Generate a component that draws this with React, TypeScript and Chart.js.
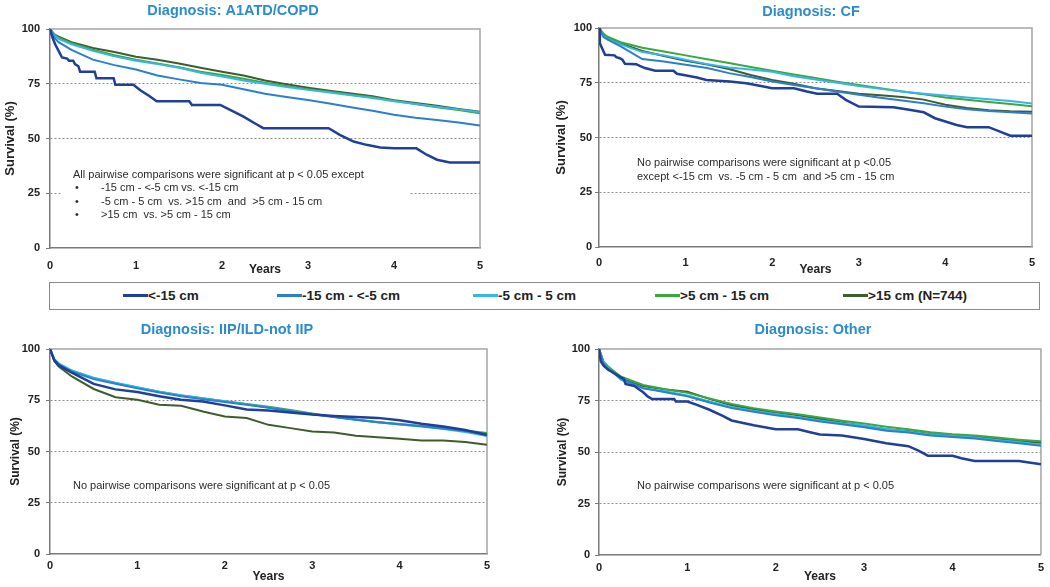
import React, { useEffect, useRef } from "react";
import { Chart, registerables } from "chart.js";

Chart.register(...registerables);

const FONT = '"Liberation Sans", Arial, Helvetica, sans-serif';

const SERIES_LABELS = ["<-15 cm", "-15 cm - <-5 cm", "-5 cm - 5 cm", ">5 cm - 15 cm", ">15 cm (N=744)"];
const SERIES_COLORS = ["#1f3f98", "#2a7fcf", "#36b5ea", "#3aa83a", "#3f5d2c"];
const X_TICK_STEP = 1;
const Y_TICK_STEP = 25;

// common time grid (years) for the smoother curves
const GRID_YEARS = [0, 0.05, 0.1, 0.25, 0.5, 0.75, 1, 1.25, 1.5, 1.75, 2, 2.25, 2.5, 2.75, 3, 3.25, 3.5, 3.75, 4, 4.25, 4.5, 4.75, 5];

// ---- Diagnosis: A1ATD/COPD ----
const COPD_NAVY_YEARS = [0, 0.03, 0.06, 0.1, 0.14, 0.2, 0.22, 0.27, 0.29, 0.33, 0.35, 0.52, 0.54, 0.74, 0.76, 0.97, 1.05, 1.15, 1.24, 1.62, 1.65, 1.98, 2.1, 2.25, 2.4, 2.48, 3.24, 3.37, 3.53, 3.68, 3.84, 4.0, 4.26, 4.38, 4.5, 4.65, 5];
const COPD_NAVY = [100, 96, 93, 90, 87, 86.5, 85.5, 85.5, 84, 83, 80.5, 80.5, 77.5, 77.5, 74.5, 74.5, 72, 69.5, 67, 67, 65.3, 65.3, 63, 60, 56.5, 54.7, 54.7, 51.7, 48.6, 47.1, 45.9, 45.5, 45.5, 42.6, 40.3, 39, 39];
const COPD_MID = [100, 96, 94, 90.5, 86, 83.5, 81.5, 78.8, 77, 75.3, 74.5, 72.5, 70.4, 69, 67.6, 66, 64.3, 62.7, 60.8, 59.5, 58.5, 57.3, 55.9];
const COPD_CYAN = [100, 97, 95.5, 93, 90, 87.5, 85.5, 84, 82.3, 80, 78.3, 76.5, 75, 73.5, 72.2, 71, 69.8, 68.5, 67, 65.8, 64.5, 63.3, 62];
const COPD_GREEN = [100, 97.5, 96, 93.5, 90.5, 88, 86, 84.3, 82.5, 80.5, 79, 77.3, 75.5, 74, 72.5, 71.3, 70, 68.8, 67.2, 65.8, 64.3, 63, 61.5];
const COPD_OLIVE = [100, 97.5, 96.5, 94, 91.3, 89.5, 87.3, 86, 84.2, 82.3, 80.5, 78.8, 76.5, 74.8, 73.2, 71.8, 70.5, 69.3, 67.5, 66.2, 65, 63.5, 62.2];

// ---- Diagnosis: CF ----
const CF_NAVY_YEARS = [0, 0.01, 0.07, 0.18, 0.2, 0.24, 0.27, 0.3, 0.43, 0.47, 0.53, 0.65, 0.86, 0.9, 1.01, 1.13, 1.24, 1.51, 1.7, 1.9, 2.0, 2.25, 2.4, 2.52, 2.75, 2.85, 3.0, 3.4, 3.6, 3.75, 3.88, 4.0, 4.13, 4.25, 4.5, 4.63, 4.75, 5];
const CF_NAVY = [100, 93, 87.8, 87.5, 86.7, 86.2, 85.5, 83.7, 83.5, 82.7, 81.7, 80.5, 80.5, 79.1, 78.3, 77.4, 76.3, 75.6, 74.8, 73.3, 72.5, 72.5, 71, 70, 70, 67.2, 64.1, 63.8, 62.6, 61.5, 58.8, 57.3, 55.7, 54.7, 54.7, 52.7, 50.8, 50.8];
const CF_MID = [100, 96, 94.7, 91.6, 85.8, 84.7, 83.2, 81.7, 79.4, 77.6, 75.6, 74, 72.5, 71, 69.5, 68.2, 66.9, 65.6, 64.1, 62.9, 62.1, 61.5, 61];
const CF_CYAN = [100, 96.5, 95, 92.5, 89, 87.5, 85.5, 83.5, 82, 81, 80, 78, 76.5, 75, 73.5, 72.2, 71, 70, 69.2, 68.3, 67.5, 66.7, 65.5];
const CF_GREEN = [100, 97.5, 96, 93.5, 91, 89.3, 87.5, 85.7, 84, 82.2, 80.5, 78.8, 77.2, 75.5, 74, 72.5, 71, 69.8, 68.3, 67.2, 66.2, 65.3, 64.3];
const CF_OLIVE = [100, 97, 95.5, 93, 89.5, 87.2, 85, 83.3, 81.3, 78.5, 76.3, 74.5, 72.5, 71.2, 70, 69.3, 68.5, 67.3, 65, 63.5, 62.5, 62, 61.8];

// ---- Diagnosis: IIP/ILD-not IIP ----
const ILD_NAVY = [100, 94.5, 92, 88.5, 83, 80.3, 79, 77, 75.2, 74.4, 72.5, 70.5, 70, 69, 68, 67.3, 66.8, 66.4, 65.2, 63.5, 62.2, 60.5, 58];
const ILD_MID = [100, 94.5, 92.5, 89, 85.3, 83, 80.8, 78.8, 77, 75.5, 74.2, 72.8, 71.3, 69.8, 68.2, 66.8, 65.5, 64.3, 63.3, 62.3, 61.2, 60, 58.5];
const ILD_CYAN = [100, 95, 93, 89.5, 86, 83.5, 81.3, 79.2, 77.3, 75.8, 74.5, 73, 71.5, 69.8, 68.3, 66.8, 65.5, 64.3, 63.2, 62.2, 61, 59.5, 57.5];
const ILD_GREEN = [100, 94.5, 92.8, 89.3, 85.8, 83.3, 81.2, 79.2, 77.4, 76, 74.5, 73.2, 71.8, 70.2, 68.6, 67, 65.6, 64.4, 63.4, 62.5, 61.5, 60.3, 59];
const ILD_OLIVE = [100, 94, 91.5, 86.6, 80.5, 76.5, 75.2, 72.8, 72.3, 69.5, 67.1, 66.3, 63, 61.4, 59.8, 59.3, 57.7, 57, 56.2, 55.4, 55.4, 54.6, 53.3];

// ---- Diagnosis: Other ----
const OTHER_NAVY_YEARS = [0, 0.02, 0.05, 0.1, 0.2, 0.28, 0.3, 0.4, 0.45, 0.5, 0.55, 0.6, 0.85, 0.87, 1.0, 1.1, 1.25, 1.4, 1.5, 1.75, 2.0, 2.25, 2.4, 2.5, 2.75, 3.0, 3.25, 3.5, 3.62, 3.72, 4.0, 4.1, 4.25, 4.75, 5];
const OTHER_NAVY = [100, 94, 92, 90, 87.5, 85.5, 83, 82, 80.5, 79, 77, 75.7, 75.7, 74.5, 74.5, 73, 70.5, 67.5, 65.3, 63, 61, 61, 59.5, 58.5, 58, 56.3, 54.2, 52.8, 50.5, 48.2, 48.2, 47, 45.6, 45.6, 44];
const OTHER_MID = [100, 93, 90.5, 85.5, 81, 79, 77, 74, 71.3, 69.5, 67.8, 66.5, 64.8, 63.5, 62, 60.3, 59.5, 58, 57.3, 56.5, 55.3, 54.2, 53];
const OTHER_CYAN = [100, 93.5, 91, 85, 80.8, 79.5, 77.5, 74.5, 71.8, 70, 68.5, 67, 65.3, 64, 63, 61.2, 60, 58.5, 57.8, 57, 55.8, 54.8, 53.5];
const OTHER_GREEN = [100, 94, 91.5, 86.5, 82.5, 80.5, 78.7, 76, 73.3, 71.3, 69.7, 68.3, 66.7, 65.2, 63.8, 62.3, 61, 59.6, 58.6, 58, 57, 56, 55.2];
const OTHER_OLIVE = [100, 93.5, 91.5, 86, 82, 80.3, 79.3, 75.8, 72.7, 70.8, 69.2, 67.8, 66, 64.3, 62.8, 61, 60.2, 58.7, 58.2, 57.5, 56.3, 55.3, 54.5];

const PANEL_TITLES = ["Diagnosis: A1ATD/COPD", "Diagnosis: CF", "Diagnosis: IIP/ILD-not IIP", "Diagnosis: Other"];

const COPD_NOTE = [
  "All pairwise comparisons were significant at p < 0.05 except",
  "-15 cm - <-5 cm vs. <-15 cm",
  "-5 cm - 5 cm  vs. >15 cm  and  >5 cm - 15 cm",
  ">15 cm  vs. >5 cm - 15 cm",
];
const CF_NOTE = [
  "No pairwise comparisons were significant at p <0.05",
  "except <-15 cm  vs. -5 cm - 5 cm  and >5 cm - 15 cm",
];
const ILD_NOTE = ["No pairwise comparisons were significant at p < 0.05"];
const OTHER_NOTE = ["No pairwise comparisons were significant at p < 0.05"];

type XY = { x: number; y: number };
const xy = (xs: number[], ys: number[]): XY[] => xs.map((x, i) => ({ x, y: ys[i] }));

const PANEL_SERIES: [number[], number[]][][] = [
  [[COPD_NAVY_YEARS, COPD_NAVY], [GRID_YEARS, COPD_MID], [GRID_YEARS, COPD_CYAN], [GRID_YEARS, COPD_GREEN], [GRID_YEARS, COPD_OLIVE]],
  [[CF_NAVY_YEARS, CF_NAVY], [GRID_YEARS, CF_MID], [GRID_YEARS, CF_CYAN], [GRID_YEARS, CF_GREEN], [GRID_YEARS, CF_OLIVE]],
  [[GRID_YEARS, ILD_NAVY], [GRID_YEARS, ILD_MID], [GRID_YEARS, ILD_CYAN], [GRID_YEARS, ILD_GREEN], [GRID_YEARS, ILD_OLIVE]],
  [[OTHER_NAVY_YEARS, OTHER_NAVY], [GRID_YEARS, OTHER_MID], [GRID_YEARS, OTHER_CYAN], [GRID_YEARS, OTHER_GREEN], [GRID_YEARS, OTHER_OLIVE]],
];

type Note = { x: number; y: number; text: string };

// layout of each panel (canvas placement and fixed axis sizes)
const LAYOUT = [
  { left: 0, top: 0, w: 525, h: 280, pad: { left: 0, top: 29, right: 45, bottom: 0 }, yWidth: 50, xHeight: 32, yTickPad: 6, xTickPad: 11, yTitleSize: 13, yTitlePad: 3, titleX: 233, titleY: 11,
    mask: { x: 62, y: 166, w: 348, h: 55 },
    notes: [
      { x: 73, y: 175, text: COPD_NOTE[0] },
      { x: 75, y: 188, text: "\u2022" }, { x: 101, y: 188, text: COPD_NOTE[1] },
      { x: 75, y: 202, text: "\u2022" }, { x: 101, y: 202, text: COPD_NOTE[2] },
      { x: 75, y: 215, text: "\u2022" }, { x: 101, y: 215, text: COPD_NOTE[3] },
    ] as Note[] },
  { left: 530, top: 0, w: 520, h: 280, pad: { left: 21, top: 28, right: 18, bottom: 0 }, yWidth: 48, xHeight: 33, yTickPad: 3, xTickPad: 9, yTitleSize: 13, yTitlePad: 3, titleX: 281, titleY: 12,
    mask: null,
    notes: [
      { x: 107, y: 163, text: CF_NOTE[0] },
      { x: 107, y: 177, text: CF_NOTE[1] },
    ] as Note[] },
  { left: 0, top: 310, w: 525, h: 277, pad: { left: 4, top: 39, right: 38, bottom: 0 }, yWidth: 46, xHeight: 33, yTickPad: 6, xTickPad: 5, yTitleSize: 12, yTitlePad: 4, titleX: 227, titleY: 20,
    mask: null,
    notes: [{ x: 73, y: 176, text: ILD_NOTE[0] }] as Note[] },
  { left: 530, top: 310, w: 520, h: 277, pad: { left: 21, top: 39, right: 8, bottom: 0 }, yWidth: 48, xHeight: 32, yTickPad: 5, xTickPad: 6, yTitleSize: 12, yTitlePad: 4, titleX: 283, titleY: 20,
    mask: null,
    notes: [{ x: 107, y: 176, text: OTHER_NOTE[0] }] as Note[] },
];

const decorPlugin = {
  id: "decor",
  beforeDatasetsDraw(chart: any, _args: any, opts: any) {
    const { ctx, chartArea: a } = chart;
    ctx.save();
    ctx.strokeStyle = "#a5a5a5";
    ctx.lineWidth = 1.5;
    ctx.beginPath();
    ctx.moveTo(a.left, a.top);
    ctx.lineTo(a.right, a.top);
    ctx.lineTo(a.right, a.bottom);
    ctx.stroke();
    if (opts.mask) {
      ctx.fillStyle = "#ffffff";
      ctx.fillRect(opts.mask.x, opts.mask.y, opts.mask.w, opts.mask.h);
    }
    ctx.fillStyle = "#2b2b2b";
    ctx.font = `11px ${FONT}`;
    ctx.textBaseline = "middle";
    ctx.textAlign = "left";
    (opts.notes || []).forEach((n: Note) => ctx.fillText(n.text, n.x, n.y));
    ctx.restore();
  },
  afterDraw(chart: any, _args: any, opts: any) {
    const { ctx } = chart;
    ctx.save();
    ctx.fillStyle = "#2b8ccc";
    ctx.font = `bold 14.5px ${FONT}`;
    ctx.textAlign = "center";
    ctx.textBaseline = "middle";
    ctx.fillText(opts.title, opts.titleX, opts.titleY);
    ctx.restore();
  },
};

function Panel({ index }: { index: number }) {
  const ref = useRef<HTMLCanvasElement>(null);
  const box = LAYOUT[index];
  useEffect(() => {
    const canvas = ref.current;
    if (!canvas) return;
    const tickFont = { family: FONT, size: 11, weight: "bold" as const };
    const chart = new Chart(canvas, {
      type: "line",
      data: {
        datasets: PANEL_SERIES[index].map((s, i) => ({
          label: SERIES_LABELS[i],
          data: xy(s[0], s[1]),
          borderColor: SERIES_COLORS[i],
          backgroundColor: SERIES_COLORS[i],
          borderWidth: i === 0 ? 2.5 : 2,
          pointRadius: 0,
          tension: 0,
          fill: false,
        })),
      },
      options: {
        responsive: false,
        animation: false,
        events: [],
        layout: { padding: box.pad },
        plugins: {
          legend: { display: false },
          title: { display: false },
          tooltip: { enabled: false },
          decor: { notes: box.notes, mask: box.mask, title: PANEL_TITLES[index], titleX: box.titleX, titleY: box.titleY },
        } as any,
        scales: {
          x: {
            type: "linear",
            min: 0,
            max: 5,
            ticks: { stepSize: X_TICK_STEP, font: tickFont, color: "#222", padding: box.xTickPad, maxRotation: 0 },
            grid: { display: true, color: "rgba(0,0,0,0)", drawTicks: false },
            border: { color: "#7a7a7a", width: 1.5 },
            title: { display: true, text: "Years", color: "#222", font: { family: FONT, size: 12, weight: "bold" }, padding: { top: 0, bottom: 3 } },
            afterFit: (s: any) => { s.height = box.xHeight; },
          },
          y: {
            min: 0,
            max: 100,
            ticks: { stepSize: Y_TICK_STEP, font: tickFont, color: "#222", padding: box.yTickPad },
            grid: {
              color: (c: any) => (c.tick && (c.tick.value === 0 || c.tick.value === 100) ? "rgba(0,0,0,0)" : "#8c8c8c"),
              lineWidth: 1,
              drawTicks: true,
              tickLength: 4,
              tickColor: "#7a7a7a",
            },
            border: { color: "#7a7a7a", width: 1.5, dash: [2, 2] },
            title: { display: true, text: "Survival (%)", color: "#222", font: { family: FONT, size: box.yTitleSize, weight: "bold" }, padding: { top: box.yTitlePad, bottom: 0 } },
            afterFit: (s: any) => { s.width = box.yWidth; },
          },
        } as any,
      },
      plugins: [decorPlugin as any],
    });
    return () => chart.destroy();
  }, [index]);
  return (
    <canvas
      ref={ref}
      width={box.w}
      height={box.h}
      style={{ position: "absolute", left: box.left, top: box.top, width: box.w, height: box.h }}
    />
  );
}

const LEGEND_SWATCH_X = [123, 277, 473, 655, 843];

function Legend() {
  return (
    <div>
      <div
        style={{
          position: "absolute",
          left: 49,
          top: 282,
          width: 991,
          height: 28,
          border: "1.5px solid #8a8a8a",
          boxSizing: "border-box",
        }}
      />
      {SERIES_LABELS.map((lab, i) => (
        <div key={lab} style={{ position: "absolute", left: LEGEND_SWATCH_X[i], top: 286, height: 18, display: "flex", alignItems: "center" }}>
          <div style={{ width: 25, height: 3, background: SERIES_COLORS[i] }} />
          <span style={{ fontFamily: FONT, fontWeight: "bold", fontSize: 13.5, color: "#222", whiteSpace: "pre" }}>{lab}</span>
        </div>
      ))}
    </div>
  );
}

export default function App() {
  return (
    <div style={{ position: "absolute", left: 0, top: 0, width: 1050, height: 587, background: "#fff", overflow: "hidden" }}>
      <Panel index={0} />
      <Panel index={1} />
      <Legend />
      <Panel index={2} />
      <Panel index={3} />
    </div>
  );
}
